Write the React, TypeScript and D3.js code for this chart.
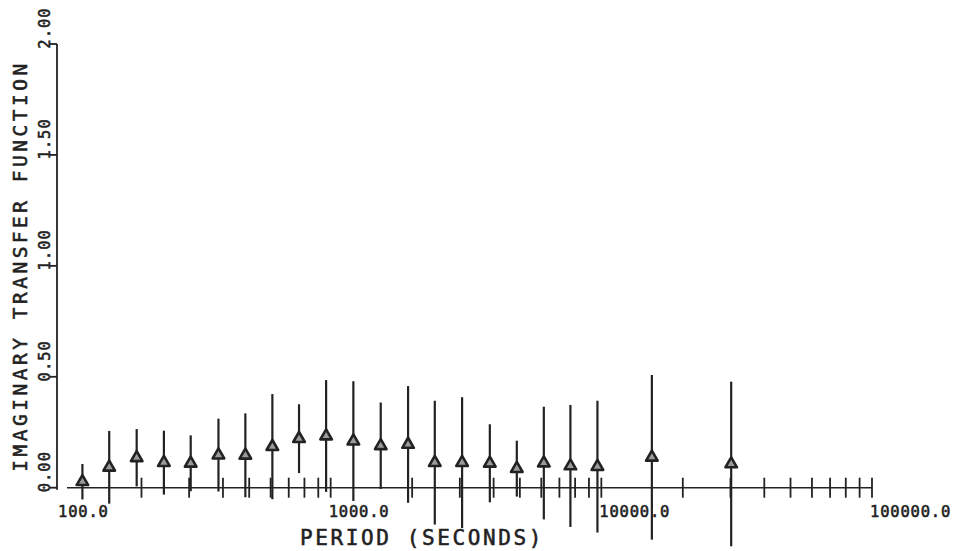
import React from "react";
import * as d3 from "d3";

// Periods (s) of the estimates, imaginary part of the transfer function and its error half-width
const periods = [121, 152, 192, 242, 304, 385, 484, 609, 764, 962, 1213, 1531, 1932, 2425, 3059, 3873, 4872, 6131, 7687, 9674, 15370, 30180];
const imagValues = [0.027, 0.092, 0.135, 0.113, 0.11, 0.147, 0.146, 0.185, 0.221, 0.233, 0.21, 0.189, 0.195, 0.113, 0.113, 0.11, 0.086, 0.111, 0.098, 0.095, 0.137, 0.107];
const errors = [0.08, 0.164, 0.129, 0.144, 0.126, 0.164, 0.189, 0.237, 0.155, 0.252, 0.27, 0.195, 0.263, 0.279, 0.295, 0.176, 0.126, 0.254, 0.275, 0.297, 0.371, 0.371];

const yTicks = [0, 0.5, 1.0, 1.5, 2.0];
const yTickLabels = ["0.00", "0.50", "1.00", "1.50", "2.00"];
const xMajorTicks = [100, 1000, 10000, 100000];
const xMajorLabels = ["100.0", "1000.0", "10000.0", "100000.0"];

const INK = "#222";
const FONT = "'DejaVu Sans Mono', 'Liberation Mono', monospace";

export default function App() {
  const width = 960;
  const height = 551;

  const x = d3.scaleLog().domain([100, 100000]).range([60, 872]);
  const y = d3.scaleLinear().domain([0, 2]).range([487.7, 44]);
  const axisX = x(100) - 3;

  // minor and decade ticks along the period axis (200..900 per decade, plus decade marks)
  const xTicks: number[] = [];
  for (const dec of [100, 1000, 10000]) {
    for (let m = 2; m <= 10; m++) xTicks.push(dec * m);
  }

  const tri = d3.symbol().type(d3.symbolTriangle).size(58)();

  const textStyle = { stroke: INK, strokeWidth: 0.55 };

  return (
    <svg width={width} height={height} style={{ position: "absolute", left: 0, top: 0, background: "#fff" }}>
      {/* y axis */}
      <line x1={axisX} x2={axisX} y1={y(2)} y2={y(0) + 2} stroke={INK} strokeWidth={1.8} />
      {yTicks.map((t, i) => (
        <g key={"yt" + i}>
          <line x1={axisX - 7} x2={axisX} y1={y(t)} y2={y(t)} stroke={INK} strokeWidth={1.8} />
          <text
            transform={`translate(50,${y(t) - 16}) rotate(-90)`}
            textAnchor="middle"
            fontFamily={FONT}
            fontSize={15.5}
            letterSpacing={1}
            fill={INK}
            style={textStyle}
          >
            {yTickLabels[i]}
          </text>
        </g>
      ))}
      <text
        transform={`translate(27,266) rotate(-90)`}
        textAnchor="middle"
        fontFamily={FONT}
        fontSize={19.5}
        letterSpacing={3.5}
        fill={INK}
        style={textStyle}
      >
        IMAGINARY TRANSFER FUNCTION
      </text>

      {/* x axis */}
      <line x1={x(100) + 7} x2={x(100000)} y1={y(0)} y2={y(0)} stroke={INK} strokeWidth={1.6} />
      {xTicks.map((t) => (
        <line key={"xt" + t} x1={x(t)} x2={x(t)} y1={y(0) - 10} y2={y(0) + 10} stroke={INK} strokeWidth={1.8} />
      ))}
      {xMajorTicks.map((t, i) => (
        <text
          key={"xl" + t}
          x={x(t) - 2}
          y={516.5}
          fontFamily={FONT}
          fontSize={15.5}
          letterSpacing={0.8}
          fill={INK}
          style={textStyle}
        >
          {xMajorLabels[i]}
        </text>
      ))}
      <text x={300} y={545} fontFamily={FONT} fontSize={21} letterSpacing={2.6} fill={INK} style={textStyle}>
        PERIOD (SECONDS)
      </text>

      {/* error bars and estimates */}
      {periods.map((p, i) => (
        <g key={"pt" + i}>
          <line
            x1={x(p)}
            x2={x(p)}
            y1={y(imagValues[i] + errors[i])}
            y2={y(imagValues[i] - errors[i])}
            stroke={INK}
            strokeWidth={2.2}
          />
          <path
            d={tri as string}
            transform={`translate(${x(p)},${y(imagValues[i])})`}
            fill="#9a9a9a"
            stroke={INK}
            strokeWidth={2.6}
            strokeLinejoin="round"
          />
        </g>
      ))}
    </svg>
  );
}
